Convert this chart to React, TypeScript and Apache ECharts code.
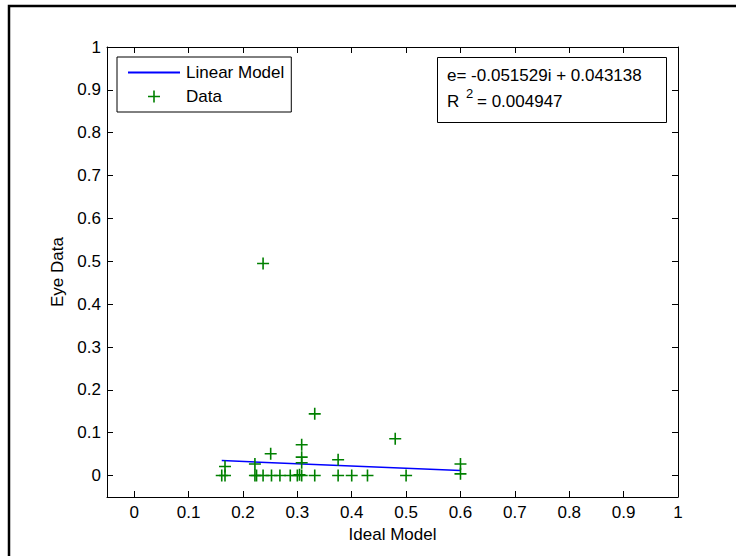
import React, { useEffect, useRef } from "react";
import * as echarts from "echarts";

const tickValues = [0, 0.1, 0.2, 0.3, 0.4, 0.5, 0.6, 0.7, 0.8, 0.9, 1];

const dataX = [
  0.161, 0.167, 0.167, 0.222, 0.222, 0.225, 0.237, 0.237, 0.251, 0.2525,
  0.268, 0.287, 0.3, 0.304, 0.308, 0.308, 0.308, 0.308, 0.332, 0.332,
  0.375, 0.375, 0.4, 0.429, 0.48, 0.5, 0.6, 0.6,
];
const dataY = [
  0, 0, 0.021, 0, 0.027, 0, 0, 0.495, 0.051, 0,
  0, 0, 0, 0.002, 0, 0.03, 0.043, 0.072, 0, 0.144,
  0, 0.037, 0, 0, 0.086, 0, 0.004, 0.027,
];

const modelX = [0.161, 0.6];
const modelY = [0.035, 0.012];

const eqLine = "e= -0.051529i + 0.043138";
const r2Value = "= 0.004947";

const FONT = "'Liberation Sans', Arial, sans-serif";
const PLUS =
  "path://M5.2,0H6.8V5.2H12V6.8H6.8V12H5.2V6.8H0V5.2H5.2Z";

export default function App() {
  const ref = useRef<HTMLDivElement>(null);
  useEffect(() => {
    if (!ref.current) return;
    const chart = echarts.init(ref.current, undefined, { renderer: "svg" });
    const fmt = (v: number) => String(Number(Number(v).toFixed(2)));
    const axisCommon = {
      type: "value" as const,
      min: -0.05,
      max: 1,
      splitLine: { show: false },
      axisLine: { show: true, onZero: false, lineStyle: { color: "#000", width: 1 } },
      axisTick: {
        show: true,
        inside: true,
        length: 6,
        customValues: tickValues,
        lineStyle: { color: "#000", width: 1 },
      },
    };
    chart.setOption({
      animation: false,
      backgroundColor: "#fff",
      textStyle: { fontFamily: FONT },
      grid: { left: 107, right: 58, top: 47, bottom: 59, containLabel: false },
      xAxis: [
        {
          ...axisCommon,
          position: "bottom",
          name: "Ideal Model",
          nameLocation: "middle",
          nameGap: 29,
          nameTextStyle: { color: "#000", fontSize: 17, fontFamily: FONT },
          axisLabel: {
            show: true,
            customValues: tickValues,
            formatter: fmt,
            color: "#000",
            fontSize: 17,
            fontFamily: FONT,
            margin: 7,
          },
        },
        {
          ...axisCommon,
          position: "top",
          axisLabel: { show: false },
        },
      ],
      yAxis: [
        {
          ...axisCommon,
          position: "left",
          name: "Eye Data",
          nameLocation: "middle",
          nameGap: 40,
          nameTextStyle: { color: "#000", fontSize: 17, fontFamily: FONT },
          axisLabel: {
            show: true,
            customValues: tickValues,
            formatter: fmt,
            color: "#000",
            fontSize: 17,
            fontFamily: FONT,
            margin: 6,
          },
        },
        {
          ...axisCommon,
          position: "right",
          axisLabel: { show: false },
        },
      ],
      legend: {
        orient: "vertical",
        left: 117,
        top: 57,
        padding: [7, 7, 7, 10],
        itemWidth: 52,
        itemHeight: 12,
        itemGap: 7,
        borderColor: "#000",
        borderWidth: 1,
        backgroundColor: "#fff",
        textStyle: { color: "#000", fontSize: 17, fontFamily: FONT, padding: [0, 0, 0, 1] },
        selectedMode: false,
        data: [
          { name: "Linear Model", itemStyle: { opacity: 0 } },
          { name: "Data" },
        ],
      },
      series: [
        {
          name: "Linear Model",
          type: "line",
          data: modelX.map((x, i) => [x, modelY[i]]),
          symbol: "none",
          lineStyle: { color: "#0000ff", width: 1.5 },
          itemStyle: { color: "#0000ff" },
          z: 3,
        },
        {
          name: "Data",
          type: "scatter",
          data: dataX.map((x, i) => [x, dataY[i]]),
          symbol: PLUS,
          symbolSize: 12,
          symbolKeepAspect: true,
          itemStyle: { color: "#008000", opacity: 1 },
          z: 4,
        },
      ],
      graphic: [
        {
          type: "rect",
          shape: { x: 9, y: 6, width: 800, height: 600 },
          style: { fill: "none", stroke: "#000", lineWidth: 2.5 },
          silent: true,
        },
        {
          type: "rect",
          shape: { x: 437.5, y: 57.5, width: 229, height: 65 },
          style: { fill: "#fff", stroke: "#000", lineWidth: 1 },
          z: 10,
        },
        {
          type: "text",
          x: 447,
          y: 75,
          style: { text: eqLine, fill: "#000", fontSize: 17, fontFamily: FONT, verticalAlign: "middle" },
          z: 11,
        },
        {
          type: "text",
          x: 447,
          y: 101,
          style: { text: "R", fill: "#000", fontSize: 17, fontFamily: FONT, verticalAlign: "middle" },
          z: 11,
        },
        {
          type: "text",
          x: 466,
          y: 93,
          style: { text: "2", fill: "#000", fontSize: 13, fontFamily: FONT, verticalAlign: "middle" },
          z: 11,
        },
        {
          type: "text",
          x: 477,
          y: 101,
          style: { text: r2Value, fill: "#000", fontSize: 17, fontFamily: FONT, verticalAlign: "middle" },
          z: 11,
        },
      ],
    });
    return () => chart.dispose();
  }, []);
  return (
    <div
      ref={ref}
      style={{ position: "fixed", left: 0, top: 0, width: 736, height: 556, background: "#fff" }}
    />
  );
}
